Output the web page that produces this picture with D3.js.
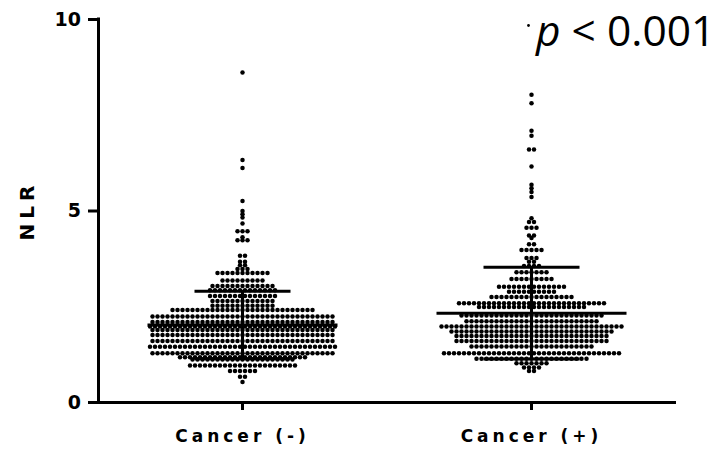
<!DOCTYPE html>
<html>
<head>
<meta charset="utf-8">
<script src="https://cdn.jsdelivr.net/npm/d3@7"></script>
<style>
  html, body { margin: 0; padding: 0; background: #fff; }
  svg { display: block; }
</style>
</head>
<body>
<svg id="chart" width="717" height="450"></svg>
<script>
// ---- data ----
const categories = ["Cancer (-)", "Cancer (+)"];

// NLR value of each dot row and number of dots in that row
const negRowValues = [8.60, 6.32, 6.11, 5.25, 4.99, 4.90, 4.82, 4.66, 4.46, 4.30, 4.22, 3.82, 3.66, 3.57, 3.47,
  3.37, 3.17, 3.03, 2.92, 2.77, 2.64, 2.51, 2.40, 2.23, 2.09, 1.97, 1.88, 1.75, 1.59, 1.44, 1.27,
  1.17, 1.11, 0.95, 0.81, 0.66, 0.52];
const negRowCounts = [1, 1, 1, 1, 1, 1, 1, 1, 3, 1, 3, 2, 2, 2, 3,
  11, 9, 13, 14, 14, 13, 13, 29, 37, 37, 38, 37, 37, 37, 38, 37,
  26, 21, 22, 6, 2, 1];

const posRowValues = [8.02, 7.80, 7.08, 6.95, 6.59, 6.15, 5.67, 5.58, 5.48, 5.35, 4.80, 4.70, 4.55, 4.35, 4.28,
  4.12, 3.97, 3.76, 3.66, 3.55, 3.39, 3.21, 3.01, 2.88, 2.74, 2.58, 2.48, 2.26, 2.11, 1.97, 1.84,
  1.72, 1.59, 1.45, 1.27, 1.13, 1.01, 0.90, 0.81];
const posRowCounts = [1, 1, 1, 1, 2, 1, 1, 1, 1, 1, 1, 2, 3, 2, 1,
  2, 5, 3, 2, 4, 7, 9, 14, 10, 17, 30, 22, 29, 27, 37, 33,
  31, 31, 25, 36, 23, 7, 4, 2];

const groupMeans = [2.01, 2.32];
const groupSDs = [0.88, 1.20];

const yTickValues = [0, 5, 10];
const yLabel = "NLR";
const pText = "p";
const pRest = " < 0.001";

// ---- layout ----
const svg = d3.select("#chart");
const mLeft = 98, mRight = 676, mTop = 19, mBottom = 402;

const y = d3.scaleLinear().domain([0, 10]).range([mBottom, mTop]);
const x = d3.scaleBand().domain(categories).range([mLeft, mRight]).padding(0);

const dotR = 2.25, dotStep = 5.0;
const groups = [
  { cat: categories[0], vals: negRowValues, counts: negRowCounts },
  { cat: categories[1], vals: posRowValues, counts: posRowCounts }
];

const dots = [];
groups.forEach(g => {
  const cx = x(g.cat) + x.bandwidth() / 2;
  g.vals.forEach((v, i) => {
    const n = g.counts[i];
    for (let j = 0; j < n; j++) {
      dots.push({ x: cx + (j - (n - 1) / 2) * dotStep, v: v });
    }
  });
});

svg.append("g").selectAll("circle").data(dots).join("circle")
  .attr("cx", d => d.x).attr("cy", d => y(d.v)).attr("r", dotR).attr("fill", "#000");

// mean & SD bars
const bars = svg.append("g").attr("stroke", "#000").attr("stroke-width", 3);
categories.forEach((c, i) => {
  const cx = x(c) + x.bandwidth() / 2;
  const m = groupMeans[i], s = groupSDs[i];
  bars.append("line").attr("x1", cx - 95).attr("x2", cx + 95).attr("y1", y(m)).attr("y2", y(m));
  bars.append("line").attr("x1", cx).attr("x2", cx).attr("y1", y(m + s)).attr("y2", y(m - s));
  bars.append("line").attr("x1", cx - 48).attr("x2", cx + 48).attr("y1", y(m + s)).attr("y2", y(m + s));
  bars.append("line").attr("x1", cx - 48).attr("x2", cx + 48).attr("y1", y(m - s)).attr("y2", y(m - s));
});

// axes
const yAxis = svg.append("g").attr("transform", `translate(${mLeft},0)`)
  .call(d3.axisLeft(y).tickValues(yTickValues).tickSize(10).tickSizeOuter(0).tickPadding(7).tickFormat(d3.format("d")));
const xAxis = svg.append("g").attr("transform", `translate(0,${mBottom})`)
  .call(d3.axisBottom(x).tickSize(8).tickSizeOuter(0).tickPadding(20));

[yAxis, xAxis].forEach(a => {
  a.select(".domain").attr("stroke", "#000").attr("stroke-width", 3);
  a.selectAll(".tick line").attr("stroke", "#000").attr("stroke-width", 3);
});
xAxis.select(".domain").attr("d", `M${mLeft - 1.5},0.5H${mRight}`);
yAxis.select(".domain").attr("d", `M0.5,${mTop - 1.5}V${mBottom}`);

yAxis.selectAll(".tick text")
  .attr("font-family", "DejaVu Sans, sans-serif").attr("font-weight", "bold")
  .attr("font-size", 19).attr("fill", "#000");
xAxis.selectAll(".tick text")
  .attr("font-family", "DejaVu Sans, sans-serif").attr("font-weight", "bold")
  .attr("font-size", 17).attr("letter-spacing", 4).attr("fill", "#000");

// y label
svg.append("text")
  .attr("transform", `translate(34,${y(5)}) rotate(-90)`)
  .attr("text-anchor", "middle")
  .attr("font-family", "DejaVu Sans, sans-serif").attr("font-weight", "bold")
  .attr("font-size", 20).attr("letter-spacing", 5)
  .text(yLabel);

// p value annotation
svg.append("circle").attr("cx", 528.5).attr("cy", 25.5).attr("r", 1.4).attr("fill", "#000");
const pt = svg.append("text").attr("x", 536).attr("y", 46)
  .attr("font-family", "Open Sans, sans-serif").attr("font-size", 42.5).attr("fill", "#000");
pt.append("tspan").attr("font-style", "italic").text(pText);
pt.append("tspan").text(pRest);
</script>
</body>
</html>
